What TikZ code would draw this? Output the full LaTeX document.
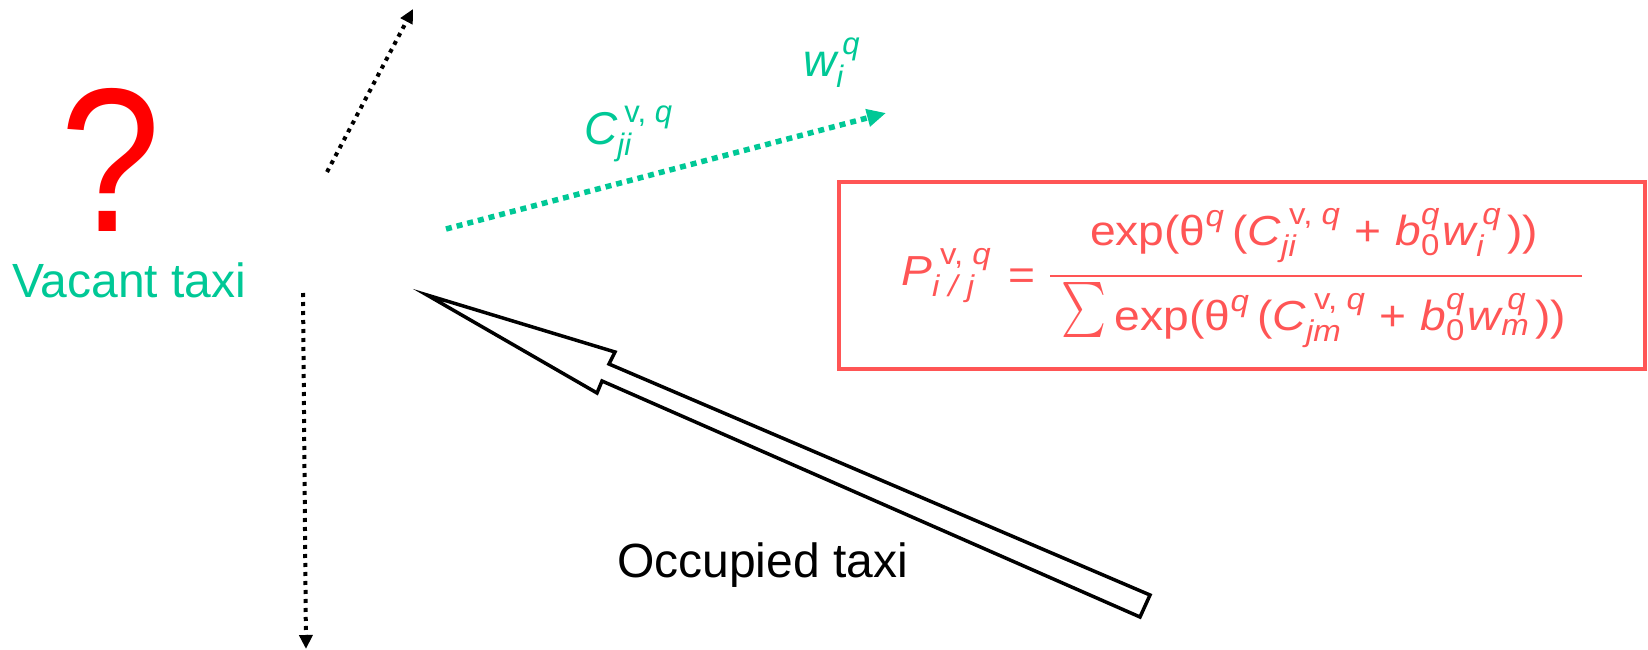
\RequirePackage{fix-cm}
\documentclass[tikz,border=0pt]{standalone}
\usepackage{amsmath}
\usepackage{fontspec}
\setmainfont{Liberation Sans}
\newfontfamily\ffont{Liberation Sans}[FakeStretch=1.1]
\newfontfamily\qfont{Liberation Sans}[FakeStretch=0.88]
\usetikzlibrary{arrows.meta}
\definecolor{tgreen}{RGB}{0,200,150}
\definecolor{fred}{RGB}{255,85,85}
\DeclareMathSizes{46}{46}{31}{25}
\DeclareMathSizes{42}{42}{30}{24}
\newcommand\It[1]{\text{\itshape #1}}
\newcommand\Rm[1]{\text{#1}}
\newcommand\BigSum{\raisebox{-3pt}{\resizebox*{45pt}{55pt}{$\sum$}}}
\begin{document}
\begin{tikzpicture}[x=1pt,y=-1pt,
  dotblack/.style={line width=4pt, dash pattern=on 4pt off 5pt, -{Triangle[length=14pt,width=13pt]}},
  dotgreen/.style={draw=tgreen, line width=5.5pt, dash pattern=on 6pt off 5pt, -{Triangle[length=19pt,width=17pt]}},
  hollow/.style={draw=black, line width=3.5pt, line join=miter, fill=white},
  lbl/.style={inner sep=0pt, anchor=base west, font=\fontsize{48}{56}\selectfont},
  glbl/.style={inner sep=0pt, anchor=base west, text=tgreen, font=\fontsize{46}{54}\selectfont},
  fbox/.style={draw=fred, line width=3.5pt, minimum width=806pt, minimum height=187pt, inner sep=0pt},
  fpart/.style={inner sep=0pt, text=fred, font=\ffont\fontsize{42}{50}\selectfont},
  fbar/.style={draw=fred, line width=2.5pt}
]
\useasboundingbox (0,0) rectangle (1648,650);

% question mark and vacant taxi
\node[inner sep=0pt, anchor=base west, text depth=0pt, text=red, font=\qfont\fontsize{205}{210}\selectfont] (qm) at (60,231) {?};
\node[lbl, text=tgreen] (vac) at (12,297) {Vacant taxi};

% dotted black arrows
\coordinate (ua) at (327,172);
\coordinate (ub) at (413,9);
\draw[dotblack] (ua) -- (ub);
\coordinate (da) at (303,293);
\coordinate (db) at (306,649);
\draw[dotblack] (da) -- (db);

% green dotted arrow
\coordinate (ga) at (446,229);
\coordinate (gb) at (886,113);
\draw[dotgreen] (ga) -- (gb);
\node[glbl] (clab) at (584,145) {$\It{C}^{\hspace{7pt}\Rm{v, }\It{q}}_{\It{ji}}$};
\node[glbl] (wlab) at (803,77) {$\It{w}^{\hspace{6pt}\It{q}}_{\It{i}}$};

% hollow arrow (occupied taxi)
\coordinate (htip) at (427,295);
\coordinate (hub) at (615,352);
\coordinate (hun) at (609,364);
\coordinate (htu) at (1150,595);
\coordinate (htl) at (1140,617);
\coordinate (hln) at (602,381);
\coordinate (hlb) at (597,393);
\draw[hollow] (htip) -- (hub) -- (hun) -- (htu) -- (htl) -- (hln) -- (hlb) -- cycle;
\node[lbl] (occ) at (617,577) {Occupied taxi};

% formula box
\node[fbox] (box) at (1242,275.5) {};
\node[fpart, anchor=base west] (lhs) at (901,285)
  {$\It{P}^{\hspace{8pt}\Rm{v, }\It{q}}_{\It{i / j}}$};
\node[fpart, anchor=base] (eq) at (1022,289) {=};
\coordinate (barl) at (1050,276);
\coordinate (barr) at (1582,276);
\draw[fbar] (barl) -- (barr);
\node[fpart, anchor=base] (num) at (1314,245)
  {$\Rm{exp(θ}^{\It{q}}\hspace{8pt}\Rm{(}\It{C}^{\hspace{8pt}\Rm{v, }\It{q}}_{\It{ji}}\hspace{14pt}\Rm{+}\hspace{14pt}\It{b}^{\It{q}}_{\Rm{0}}\hspace{3pt}\It{w}^{\hspace{6pt}\It{q}}_{\It{i}}\hspace{6pt}\Rm{))}$};
\node[fpart, anchor=base] (den) at (1314,330)
  {\BigSum\hspace{8pt}$\Rm{exp(θ}^{\It{q}}\hspace{8pt}\Rm{(}\It{C}^{\hspace{8pt}\Rm{v, }\It{q}}_{\It{jm}}\hspace{14pt}\Rm{+}\hspace{14pt}\It{b}^{\It{q}}_{\Rm{0}}\hspace{3pt}\It{w}^{\hspace{6pt}\It{q}}_{\It{m}}\hspace{6pt}\Rm{))}$};
\end{tikzpicture}
\end{document}
